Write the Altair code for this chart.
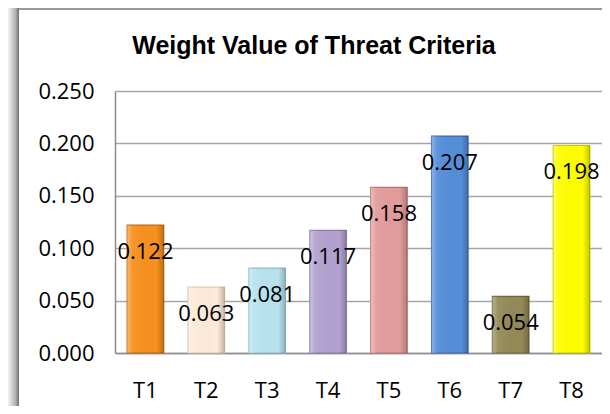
import altair as alt
import pandas as pd

categories = ["T1", "T2", "T3", "T4", "T5", "T6", "T7", "T8"]
weights = [0.122, 0.063, 0.081, 0.117, 0.158, 0.207, 0.054, 0.198]
fill_colors = ["#F7901E", "#FDEADA", "#B7E3EF", "#B3A2D0", "#E39C9C", "#558ED9", "#948A58", "#FFFF00"]
edge_colors = ["#C0640E", "#D8C4B0", "#8FBFCC", "#8C7BA8", "#B87474", "#3A6BAF", "#6E6638", "#C8C800"]
y_ticks = [0.0, 0.05, 0.10, 0.15, 0.20, 0.25]
title_text = "Weight Value of Threat Criteria"

df = pd.DataFrame({"cat": categories, "w": weights})

FONT = "Open Sans"
W, H = 487, 262

x_enc = alt.X("cat:N", sort=categories,
              scale=alt.Scale(paddingInner=0.4, paddingOuter=0.2),
              axis=alt.Axis(title=None, labelAngle=0, ticks=False, labelPadding=27,
                            labelFontSize=22, labelFont=FONT, labelColor="#000000",
                            domainColor="#8c8c8c", domainWidth=1.5, grid=False))
y_enc = alt.Y("w:Q", scale=alt.Scale(domain=[0, 0.25], nice=False),
              axis=alt.Axis(title=None, values=y_ticks, format=".3f", ticks=False,
                            labelPadding=21, labelFontSize=22, labelFont=FONT,
                            labelColor="#000000", domainColor="#8c8c8c", domainWidth=1.5,
                            gridColor="#a6a6a6", gridWidth=1.3))

bars = alt.Chart(df).mark_bar(strokeWidth=1.2).encode(
    x=x_enc, y=y_enc,
    fill=alt.Fill("cat:N", scale=alt.Scale(domain=categories, range=fill_colors), legend=None),
    stroke=alt.Stroke("cat:N", scale=alt.Scale(domain=categories, range=edge_colors), legend=None),
)

shade = alt.Chart(df).mark_bar(
    fill=alt.Gradient(gradient="linear", x1=0, x2=1, y1=0, y2=0, stops=[
        alt.GradientStop(offset=0, color="rgba(255,255,255,0.35)"),
        alt.GradientStop(offset=0.15, color="rgba(255,255,255,0.05)"),
        alt.GradientStop(offset=0.8, color="rgba(0,0,0,0.0)"),
        alt.GradientStop(offset=1, color="rgba(0,0,0,0.22)"),
    ])
).encode(x=alt.X("cat:N", sort=categories), y="w:Q")

labels = alt.Chart(df).mark_text(font=FONT, fontSize=22, color="#000000",
                                 baseline="middle", dy=27).encode(
    x=alt.X("cat:N", sort=categories), y="w:Q", text=alt.Text("w:Q", format=".3f"))

one = alt.Data(values=[{}])
title = alt.Chart(one).mark_text(text=title_text, font="Liberation Sans", fontWeight="bold",
                                 fontSize=25, color="#000000", align="center",
                                 baseline="alphabetic").encode(
    x=alt.value(199), y=alt.value(-37))

left_shadow = alt.Chart(one).mark_rect(
    fill=alt.Gradient(gradient="linear", x1=0, x2=1, y1=0, y2=0, stops=[
        alt.GradientStop(offset=0, color="#f4f4f4"),
        alt.GradientStop(offset=0.7, color="#b0b0b0"),
        alt.GradientStop(offset=1, color="#6a6a6a"),
    ])
).encode(x=alt.value(-107), x2=alt.value(-96), y=alt.value(-83), y2=alt.value(H + 53))

top_shadow = alt.Chart(one).mark_rect(color="#9a9a9a").encode(
    x=alt.value(-96), x2=alt.value(W), y=alt.value(-83), y2=alt.value(-81))

chart = alt.layer(left_shadow, top_shadow, bars, shade, labels, title).properties(
    width=W, height=H,
    autosize=alt.AutoSizeParams(type="none"),
    padding={"left": 107, "top": 83, "right": 0, "bottom": 53},
).configure_view(stroke=None).configure(background="#ffffff")

chart.save("out.html", embed_options={"renderer": "svg", "actions": False})
